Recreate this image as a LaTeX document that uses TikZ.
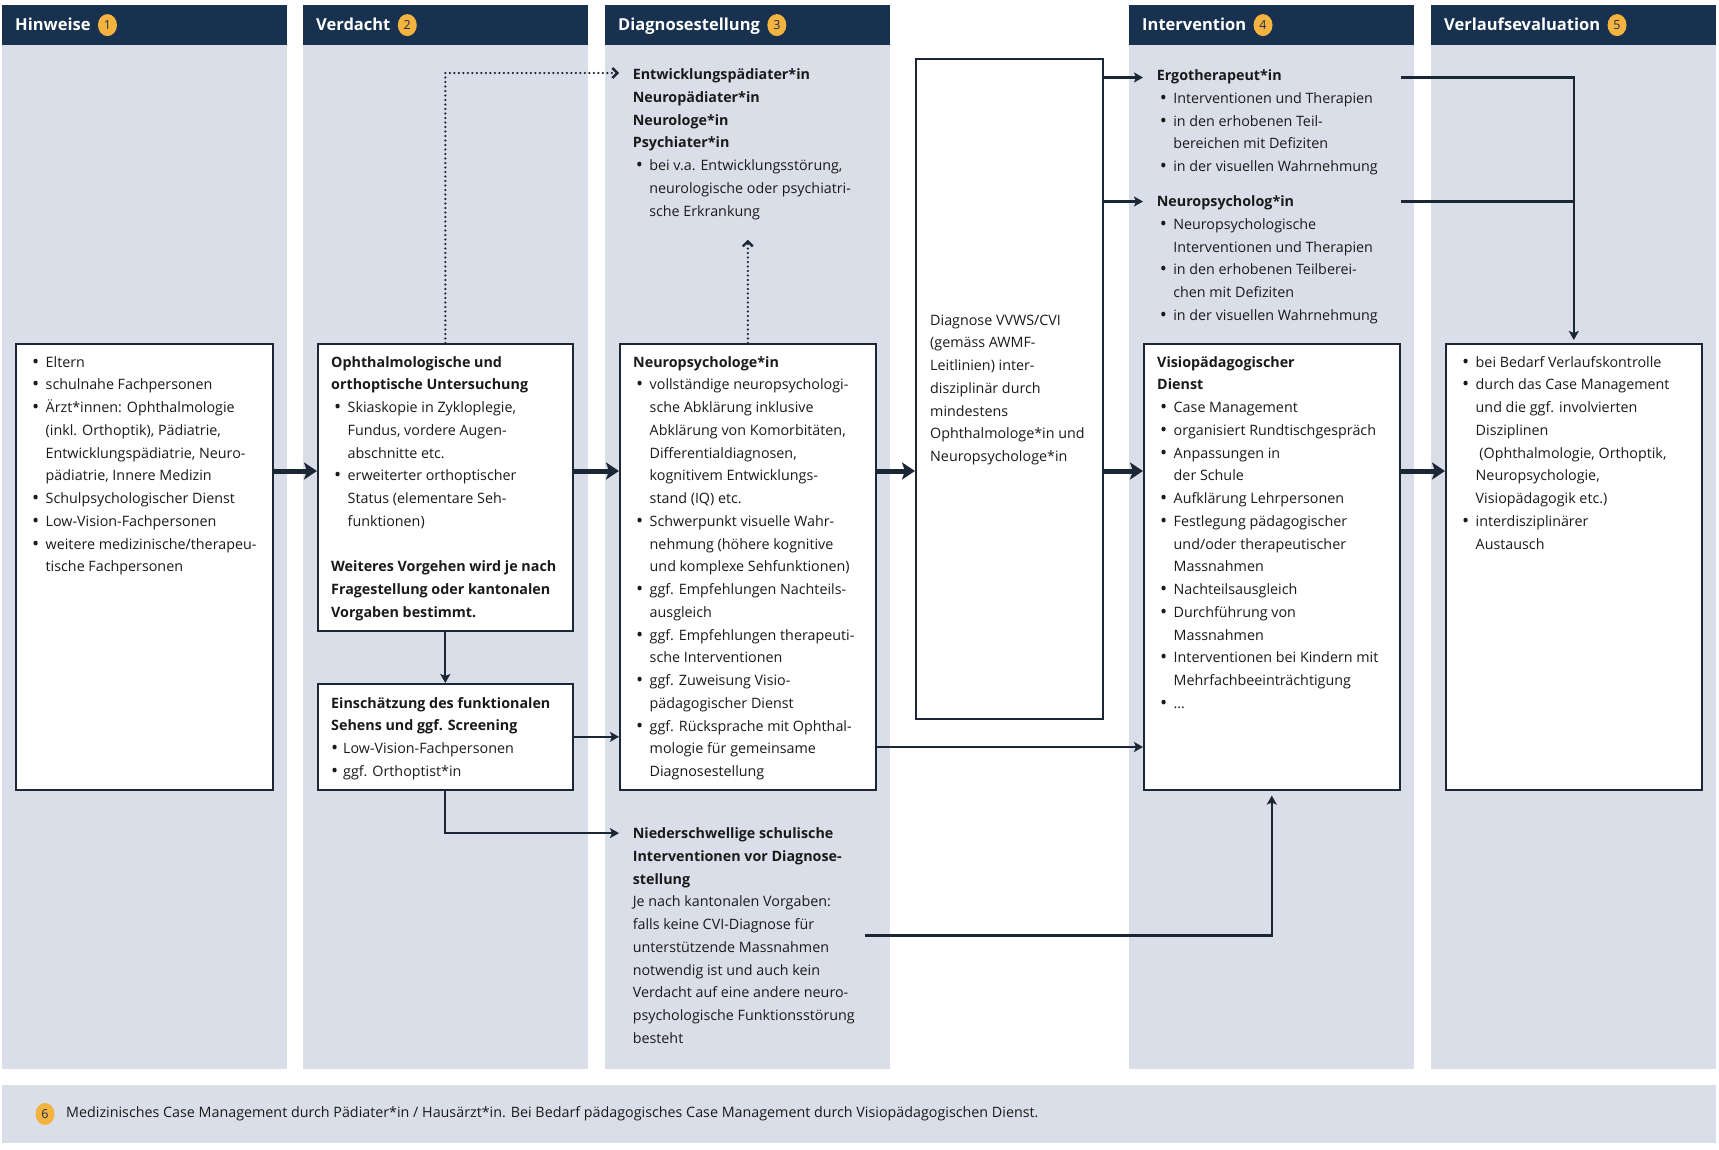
\documentclass[tikz,border=0pt]{standalone}
\usepackage{fontspec}
\setmainfont{Open Sans}
\usetikzlibrary{arrows.meta,positioning,shapes.geometric}

\definecolor{navy}{HTML}{17314F}
\definecolor{colbg}{HTML}{D9DEE8}
\definecolor{linecol}{HTML}{1C2735}
\definecolor{numcol}{HTML}{F4B23E}
\definecolor{ink}{HTML}{1A1A1A}

\newlength\bw \setlength\bw{16.5pt}
\newcommand\bdot{\raisebox{-1pt}{\fontsize{19}{19}\selectfont\textbullet}}
\newcommand\bi{\makebox[\bw][l]{\hspace{3pt}\bdot}}
\newcommand\bc{\hspace*{\bw}}
\newcommand\bs{\makebox[12pt][l]{\bdot}}

\tikzset{
  head/.style={font=\fontsize{16.5}{18}\selectfont\bfseries, text=white,
    anchor=base west, inner sep=0pt, text height=11.8pt, text depth=0pt},
  num/.style={ellipse, fill=numcol, minimum width=19pt, minimum height=22pt,
    inner sep=0pt, text=navy, font=\fontsize{12.5}{12.5}\selectfont},
  box/.style={draw=linecol, line width=1.6pt, fill=white, anchor=north west,
    inner sep=0pt},
  txt/.style={align=left, anchor=north west, inner sep=0pt, text=ink,
    font=\fontsize{14.3}{22.75}\selectfont},
  bigarrow/.style={line width=5pt, linecol, -{Stealth[length=13pt,width=17pt,inset=3pt]}},
  arrow/.style={line width=2.3pt, linecol, -{Stealth[length=9pt,width=10pt,inset=2pt]}},
  dotarrow/.style={line width=2.4pt, linecol, line cap=round,
    dash pattern=on 0pt off 4.5pt, -{Straight Barb[length=5pt,width=10pt]}},
  link/.style={line width=2.3pt, linecol},
}

\begin{document}
\begin{tikzpicture}[x=1pt, y=-1pt]
  \useasboundingbox (0,0) rectangle (1719,1150);

  % columns
  \foreach \x/\t/\n in {2/Hinweise/1, 303/Verdacht/2, 605/Diagnosestellung/3,
                        1129/Intervention/4, 1431/Verlaufsevaluation/5} {
    \fill[colbg] (\x,5.5) rectangle (\x+285,1069);
    \fill[navy] (\x,5.5) rectangle (\x+285,45);
    \node[head] (h\n) at (\x+13,31) {\t};
    \node[num, right=7pt of h\n] (n\n) {\n};
  }
  \fill[colbg] (2,1085) rectangle (1716,1143);
  \node[num] (n6) at (45,1114) {6};
  \node[txt, anchor=west] (foot) at (66,1114)
    {Medizinisches Case Management durch Pädiater*in / Hausärzt*in. Bei Bedarf pädagogisches Case Management durch Visiopädagogischen Dienst.};

  % boxes
  \node[box, minimum width=257pt, minimum height=446pt] (hin) at (15,343) {};
  \node[box, minimum width=255pt, minimum height=287pt] (oph) at (317,343) {};
  \node[box, minimum width=255pt, minimum height=106pt] (ein) at (317,683) {};
  \node[box, minimum width=256pt, minimum height=446pt] (neu) at (619,343) {};
  \node[box, minimum width=187pt, minimum height=660pt] (dia) at (915,58) {};
  \node[box, minimum width=256pt, minimum height=446pt] (vis) at (1143,343) {};
  \node[box, minimum width=256pt, minimum height=446pt] (ver) at (1445,343) {};

  \node[txt] (hintxt) at ([xshift=14pt,yshift=-13pt]hin.north west) {%
    \bi Eltern\\
    \bi schulnahe Fachpersonen\\
    \bi Ärzt*innen: Ophthalmologie\\
    \bc (inkl. Orthoptik), Pädiatrie,\\
    \bc Entwicklungspädiatrie, Neuro-\\
    \bc pädiatrie, Innere Medizin\\
    \bi Schulpsychologischer Dienst\\
    \bi Low-Vision-Fachpersonen\\
    \bi weitere medizinische/therapeu-\\
    \bc tische Fachpersonen};

  \node[txt] (ophtxt) at ([xshift=14pt,yshift=-13pt]oph.north west) {%
    \textbf{Ophthalmologische und}\\
    \textbf{orthoptische Untersuchung}\\
    \bi Skiaskopie in Zykloplegie,\\
    \bc Fundus, vordere Augen-\\
    \bc abschnitte etc.\\
    \bi erweiterter orthoptischer\\
    \bc Status (elementare Seh-\\
    \bc funktionen)\\[22.75pt]
    \textbf{Weiteres Vorgehen wird je nach}\\
    \textbf{Fragestellung oder kantonalen}\\
    \textbf{Vorgaben bestimmt.}};

  \node[txt] (eintxt) at ([xshift=14pt,yshift=-14pt]ein.north west) {%
    \textbf{Einschätzung des funktionalen}\\
    \textbf{Sehens und ggf. Screening}\\
    \bs Low-Vision-Fachpersonen\\
    \bs ggf. Orthoptist*in};

  \node[txt] (ent) at (632.6,68.5) {%
    \textbf{Entwicklungspädiater*in}\\
    \textbf{Neuropädiater*in}\\
    \textbf{Neurologe*in}\\
    \textbf{Psychiater*in}\\
    \bi bei v.a. Entwicklungsstörung,\\
    \bc neurologische oder psychiatri-\\
    \bc sche Erkrankung};

  \node[txt] (neutxt) at ([xshift=14pt,yshift=-13pt]neu.north west) {%
    \textbf{Neuropsychologe*in}\\
    \bi vollständige neuropsychologi-\\
    \bc sche Abklärung inklusive\\
    \bc Abklärung von Komorbitäten,\\
    \bc Differentialdiagnosen,\\
    \bc kognitivem Entwicklungs-\\
    \bc stand (IQ) etc.\\
    \bi Schwerpunkt visuelle Wahr-\\
    \bc nehmung (höhere kognitive\\
    \bc und komplexe Sehfunktionen)\\
    \bi ggf. Empfehlungen Nachteils-\\
    \bc ausgleich\\
    \bi ggf. Empfehlungen therapeuti-\\
    \bc sche Interventionen\\
    \bi ggf. Zuweisung Visio-\\
    \bc pädagogischer Dienst\\
    \bi ggf. Rücksprache mit Ophthal-\\
    \bc mologie für gemeinsame\\
    \bc Diagnosestellung};

  \node[txt] (nie) at (632.6,827.5) {%
    \textbf{Niederschwellige schulische}\\
    \textbf{Interventionen vor Diagnose-}\\
    \textbf{stellung}\\
    Je nach kantonalen Vorgaben:\\
    falls keine CVI-Diagnose für\\
    unterstützende Massnahmen\\
    notwendig ist und auch kein\\
    Verdacht auf eine andere neuro-\\
    psychologische Funktionsstörung\\
    besteht};

  \node[txt] (diatxt) at ([xshift=15pt,yshift=-256.5pt]dia.north west) {%
    Diagnose VVWS/CVI\\
    (gemäss AWMF-\\
    Leitlinien) inter-\\
    disziplinär durch\\
    mindestens\\
    Ophthalmologe*in und\\
    Neuropsychologe*in};

  \node[txt] (erg) at (1156.6,69.5) {%
    \textbf{Ergotherapeut*in}\\
    \bi Interventionen und Therapien\\
    \bi in den erhobenen Teil-\\
    \bc bereichen mit Defiziten\\
    \bi in der visuellen Wahrnehmung};

  \node[txt] (npg) at (1156.6,195.5) {%
    \textbf{Neuropsycholog*in}\\
    \bi Neuropsychologische\\
    \bc Interventionen und Therapien\\
    \bi in den erhobenen Teilberei-\\
    \bc chen mit Defiziten\\
    \bi in der visuellen Wahrnehmung};

  \node[txt] (vistxt) at ([xshift=14pt,yshift=-13pt]vis.north west) {%
    \textbf{Visiopädagogischer}\\
    \textbf{Dienst}\\
    \bi Case Management\\
    \bi organisiert Rundtischgespräch\\
    \bi Anpassungen in\\
    \bc der Schule\\
    \bi Aufklärung Lehrpersonen\\
    \bi Festlegung pädagogischer\\
    \bc und/oder therapeutischer\\
    \bc Massnahmen\\
    \bi Nachteilsausgleich\\
    \bi Durchführung von\\
    \bc Massnahmen\\
    \bi Interventionen bei Kindern mit\\
    \bc Mehrfachbeeinträchtigung\\
    \bi …};

  \node[txt] (vertxt) at ([xshift=14pt,yshift=-13pt]ver.north west) {%
    \bi bei Bedarf Verlaufskontrolle\\
    \bi durch das Case Management\\
    \bc und die ggf. involvierten\\
    \bc Disziplinen\\
    \bc\ (Ophthalmologie, Orthoptik,\\
    \bc Neuropsychologie,\\
    \bc Visiopädagogik etc.)\\
    \bi interdisziplinärer\\
    \bc Austausch};

  % connectors
  \coordinate (mid) at (0,471);
  \draw[bigarrow] (hin.east |- mid) -- (oph.west |- mid);
  \draw[bigarrow] (oph.east |- mid) -- (neu.west |- mid);
  \draw[bigarrow] (neu.east |- mid) -- (dia.west |- mid);
  \draw[bigarrow] (dia.east |- mid) -- (vis.west |- mid);
  \draw[bigarrow] (vis.east |- mid) -- (ver.west |- mid);

  \draw[arrow] (oph.south) -- (ein.north);
  \draw[arrow] (ein.east) -- (neu.west |- ein.east);
  \coordinate (low) at (0,747);
  \draw[arrow] (neu.east |- low) -- (vis.west |- low);

  \coordinate (nieT) at ([xshift=-13.6pt,yshift=-5.6pt]nie.north west);
  \draw[arrow] (ein.south) |- (nieT);
  \draw[arrow] ([xshift=10pt]nie.east) -| ([yshift=-5pt]vis.south);

  \coordinate (entT) at ([xshift=-13.6pt,yshift=-4.5pt]ent.north west);
  \draw[dotarrow] (oph.north) |- (entT);
  \draw[dotarrow] (neu.north) -- ([yshift=-20pt]neu.north |- ent.south);

  \coordinate (ergT) at ([xshift=-13.6pt,yshift=-8pt]erg.north west);
  \coordinate (npgT) at ([xshift=-13.6pt,yshift=-6pt]npg.north west);
  \draw[arrow] (dia.east |- ergT) -- (ergT);
  \draw[arrow] (dia.east |- npgT) -- (npgT);
  \draw[arrow] (vis.east |- ergT) -| ([yshift=3pt]ver.north);
  \draw[link] (vis.east |- npgT) -- (ver.north |- npgT);
\end{tikzpicture}
\end{document}
